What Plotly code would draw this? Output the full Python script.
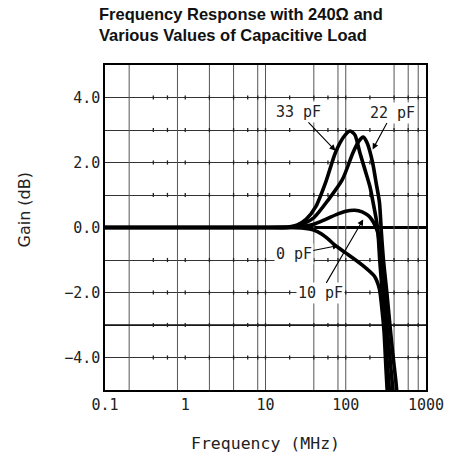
import math
import plotly.graph_objects as go

# ---------------- data ----------------
f_0pF = [0.1, 1, 10, 20, 30, 40, 50, 60, 74, 100, 158, 228, 263, 285, 300, 318, 335]
g_0pF = [0, 0, 0, 0, -0.02, -0.08, -0.2, -0.35, -0.55, -0.78, -1.14, -1.5, -1.9, -2.6, -3.2, -4.4, -5.4]

f_10pF = [0.1, 1, 10, 20, 30, 40, 56, 80, 100, 130, 160, 190, 210, 230, 250, 265, 285, 305, 325, 345, 360]
g_10pF = [0, 0, 0, 0, 0.04, 0.1, 0.25, 0.42, 0.5, 0.53, 0.48, 0.37, 0.25, 0.08, -0.15, -1.0, -2.0, -3.0, -4.0, -4.8, -5.4]

f_22pF = [0.1, 1, 10, 20, 30, 40, 61, 91, 123, 145, 165, 185, 216, 240, 263, 278, 295, 325, 355, 390, 420, 445]
g_22pF = [0, 0, 0, 0.01, 0.12, 0.3, 0.86, 1.48, 2.3, 2.65, 2.78, 2.6, 2.0, 1.35, 0.77, -0.15, -1.0, -2.0, -3.0, -4.0, -4.7, -5.4]

f_33pF = [0.1, 1, 10, 20, 25, 32, 42.5, 56, 74.5, 95, 113, 130, 150, 175, 200, 220, 240, 255, 270, 300, 325, 355, 380, 400]
g_33pF = [0, 0, 0, 0.02, 0.08, 0.25, 0.65, 1.38, 2.31, 2.8, 2.97, 2.85, 2.3, 1.75, 1.26, 0.75, 0.25, -0.2, -0.9, -2.0, -3.0, -4.0, -4.8, -5.4]

x_tickvals = [0.1, 1, 10, 100, 1000]
x_ticktext = ["0.1", "1", "10", "100", "1000"]
y_tickvals = [-4, -3, -2, -1, 0, 1, 2, 3, 4]
y_ticktext = ["\u22124.0", "", "\u22122.0", "", "0.0", "", "2.0", "", "4.0"]
grid_freqs = [0.2, 0.8, 2, 4, 8, 10, 40, 80, 100, 400, 600, 800]
dot_freqs = [0.4, 0.6, 1, 2, 4, 6, 8, 10, 20, 40, 60, 80, 100, 200, 400, 600, 800]
dot_rows = [-4, -3, -2, -1, 1, 2, 3, 4]

curves = [("0 pF", f_0pF, g_0pF), ("10 pF", f_10pF, g_10pF),
          ("22 pF", f_22pF, g_22pF), ("33 pF", f_33pF, g_33pF)]

MONO = "DejaVu Sans Mono"
TXT = "#222222"

fig = go.Figure()

# vertical grid lines
gx, gy = [], []
for f in grid_freqs:
    gx += [f, f, None]
    gy += [-5, 5, None]
fig.add_trace(go.Scatter(x=gx, y=gy, mode="lines", line=dict(color="#555555", width=1),
                         hoverinfo="skip", showlegend=False))

# -3 dB darker line
fig.add_trace(go.Scatter(x=[0.1, 1000], y=[-3, -3], mode="lines",
                         line=dict(color="#111111", width=1.6), hoverinfo="skip", showlegend=False))

# small tick dots on horizontal grid lines
dx, dy = [], []
for r in dot_rows:
    for f in dot_freqs:
        dx.append(f)
        dy.append(r)
fig.add_trace(go.Scatter(x=dx, y=dy, mode="markers",
                         marker=dict(symbol="line-ns", size=3, line=dict(color="#222222", width=1.3)),
                         hoverinfo="skip", showlegend=False))

for name, fx, gy_ in curves:
    fig.add_trace(go.Scatter(x=fx, y=gy_, mode="lines", name=name,
                             line=dict(color="black", width=3.6, shape="spline", smoothing=0.7),
                             showlegend=False))

def ann(text, tip_f, tip_g, ax, ay):
    return dict(x=math.log10(tip_f), y=tip_g, xref="x", yref="y", text=text,
                showarrow=True, arrowhead=2, arrowsize=1.1, arrowwidth=1.1, arrowcolor="black",
                ax=ax, ay=ay, font=dict(family=MONO, size=15, color=TXT),
                bgcolor="white", borderpad=1)

annotations = [
    ann("33 pF", 74.5, 2.36, -37, -39),
    ann("22 pF", 216, 2.4, 20, -37),
    ann("0 pF", 81.7, -0.55, -45, 9),
    ann("10 pF", 165, 0.25, -43, 74),
    dict(text="Gain (dB)", xref="paper", yref="paper", x=0, y=0.5, xanchor="center", yanchor="middle",
         xshift=-81, yshift=18, textangle=-90, showarrow=False,
         font=dict(family="DejaVu Sans", size=16, color=TXT)),
    dict(text="Frequency (MHz)", xref="paper", yref="paper", x=0.5, y=0, xanchor="center", yanchor="middle",
         xshift=0, yshift=-53, showarrow=False,
         font=dict(family=MONO, size=16.5, color=TXT)),
    dict(text="Frequency Response with 240\u03a9 and<br>Various Values of Capacitive Load",
         xref="paper", yref="paper", x=-8 / 327, y=1, xanchor="left", yanchor="top", align="left",
         yshift=62, showarrow=False,
         font=dict(family="Liberation Sans Narrow, Arial Narrow, Liberation Sans, Arial",
                   size=16.5, color="#111111", weight="bold")),
]

fig.update_layout(
    width=456, height=470,
    margin=dict(l=105, r=24, t=65, b=80),
    paper_bgcolor="white", plot_bgcolor="white",
    annotations=annotations,
    xaxis=dict(type="log", range=[-1, 3], tickvals=x_tickvals, ticktext=x_ticktext,
               showgrid=False, zeroline=False, ticks="", showline=True, linecolor="black",
               linewidth=1.5, mirror=True, tickfont=dict(family=MONO, size=15, color=TXT)),
    yaxis=dict(range=[-5, 5], tickvals=y_tickvals, ticktext=y_ticktext,
               showgrid=True, gridcolor="#333333", gridwidth=1,
               zeroline=True, zerolinecolor="black", zerolinewidth=3,
               ticks="", showline=True, linecolor="black", linewidth=1.5, mirror=True,
               tickfont=dict(family=MONO, size=15, color=TXT)),
)

fig.write_html("out.html")
